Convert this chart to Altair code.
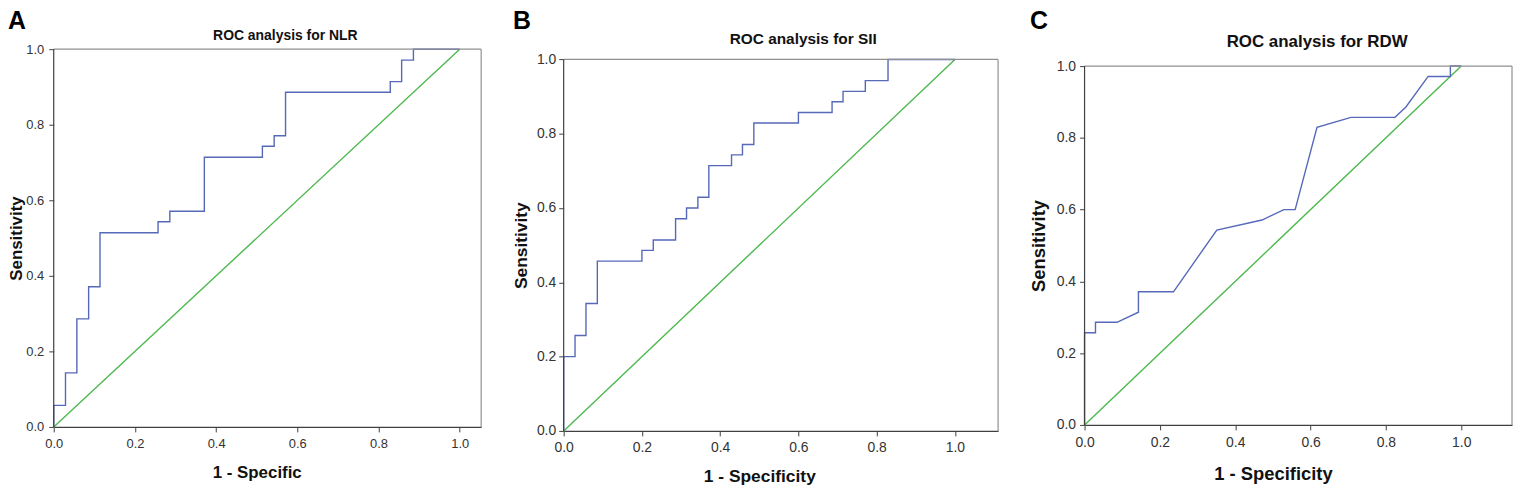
import altair as alt
import pandas as pd

# ---------------- data ----------------
tick_values = [0.0, 0.2, 0.4, 0.6, 0.8, 1.0]

nlr_fpr = [0.0, 0.0, 0.029, 0.029, 0.057, 0.057, 0.086, 0.086, 0.114, 0.114, 0.257, 0.257,
           0.286, 0.286, 0.371, 0.371, 0.514, 0.514, 0.543, 0.543, 0.571, 0.571, 0.829,
           0.829, 0.857, 0.857, 0.886, 0.886, 1.0]
nlr_tpr = [0.0, 0.057, 0.057, 0.143, 0.143, 0.286, 0.286, 0.371, 0.371, 0.514, 0.514, 0.543,
           0.543, 0.571, 0.571, 0.714, 0.714, 0.743, 0.743, 0.771, 0.771, 0.886, 0.886,
           0.914, 0.914, 0.971, 0.971, 1.0, 1.0]

sii_fpr = [0.0, 0.0, 0.029, 0.029, 0.057, 0.057, 0.086, 0.086, 0.2, 0.2, 0.229, 0.229, 0.286,
           0.286, 0.314, 0.314, 0.343, 0.343, 0.371, 0.371, 0.429, 0.429, 0.457, 0.457, 0.486,
           0.486, 0.6, 0.6, 0.686, 0.686, 0.714, 0.714, 0.771, 0.771, 0.829, 0.829, 1.0]
sii_tpr = [0.0, 0.2, 0.2, 0.257, 0.257, 0.343, 0.343, 0.457, 0.457, 0.486, 0.486, 0.514, 0.514,
           0.571, 0.571, 0.6, 0.6, 0.629, 0.629, 0.714, 0.714, 0.743, 0.743, 0.771, 0.771,
           0.829, 0.829, 0.857, 0.857, 0.886, 0.886, 0.914, 0.914, 0.943, 0.943, 1.0, 1.0]

rdw_fpr = [0.0, 0.0, 0.029, 0.029, 0.086, 0.143, 0.143, 0.236, 0.351, 0.471, 0.529, 0.559,
           0.617, 0.707, 0.824, 0.853, 0.912, 0.971, 0.971, 1.0]
rdw_tpr = [0.0, 0.257, 0.257, 0.286, 0.286, 0.314, 0.371, 0.371, 0.543, 0.571, 0.6, 0.6,
           0.829, 0.857, 0.857, 0.886, 0.971, 0.971, 1.0, 1.0]

ref_x = [0.0, 1.0]
ref_y = [0.0, 1.0]

BLUE = "#5668b8"
GREEN = "#4db84d"
FRAME_GRAY = "#909090"
AXIS_DARK = "#404040"
FONT = "Liberation Sans"

panels = [
    dict(letter="A", title="ROC analysis for NLR", xtitle="1 - Specific",
         fpr=nlr_fpr, tpr=nlr_tpr, width=430, height=380, xmax=1.0529, ymax=1.0,
         letter_x=-46, ytitle_x=-32, xtitle_y=51, title_cx=233, title_y=-9,
         label_size=13, axis_title_size=17, title_size=14, ylab_pad=5, xlab_pad=6),
    dict(letter="B", title="ROC analysis for SII", xtitle="1 - Specificity",
         fpr=sii_fpr, tpr=sii_tpr, width=437, height=384, xmax=1.1103, ymax=1.0276,
         letter_x=-51, ytitle_x=-37, xtitle_y=51, title_cx=241, title_y=-5,
         label_size=14, axis_title_size=17.5, title_size=15.5, ylab_pad=3, xlab_pad=5),
    dict(letter="C", title="ROC analysis for RDW", xtitle="1 - Specificity",
         fpr=rdw_fpr, tpr=rdw_tpr, width=430, height=378, xmax=1.1346, ymax=1.047,
         letter_x=-55, ytitle_x=-40, xtitle_y=55, title_cx=234, title_y=-2,
         label_size=14, axis_title_size=18.5, title_size=17, ylab_pad=4, xlab_pad=6),
]


def make_panel(p):
    roc_df = pd.DataFrame({"fpr": p["fpr"], "tpr": p["tpr"], "idx": list(range(len(p["fpr"])))})
    ref_df = pd.DataFrame({"fpr": ref_x, "tpr": ref_y})
    frame_df = pd.DataFrame({
        "fpr": [0.0, p["xmax"], 0.0],
        "x2": [p["xmax"], p["xmax"], 0.0],
        "tpr": [1.0, 0.0, 0.0],
        "y2": [1.0, 1.0, 1.0],
        "c": [FRAME_GRAY, FRAME_GRAY, AXIS_DARK],
    })
    letter_df = pd.DataFrame({"label": [p["letter"]]})
    title_df = pd.DataFrame({"label": [p["title"]]})

    xs = alt.Scale(domain=[0, p["xmax"]], nice=False, zero=False)
    ys = alt.Scale(domain=[0, p["ymax"]], nice=False, zero=False)
    px_per_x = p["width"] / p["xmax"]
    px_per_y = p["height"] / p["ymax"]

    xaxis = alt.Axis(
        values=tick_values, format=".1f", title=p["xtitle"], grid=False,
        labelFlush=False, labelOverlap=False, tickSize=5, labelPadding=p["xlab_pad"],
        labelFontSize=p["label_size"], labelFont=FONT, labelColor="#333333",
        domainColor=AXIS_DARK, tickColor=AXIS_DARK, domainWidth=1.2,
        titleFont=FONT, titleFontSize=p["axis_title_size"], titleFontWeight="bold",
        titleColor="#111111", titleX=0.5 * px_per_x, titleY=p["xtitle_y"],
        titleBaseline="alphabetic", titleAlign="center",
    )
    yaxis = alt.Axis(
        values=tick_values, format=".1f", title="Sensitivity", grid=False, domain=False,
        labelFlush=False, labelOverlap=False, tickSize=5, labelPadding=p["ylab_pad"],
        labelFontSize=p["label_size"], labelFont=FONT, labelColor="#333333",
        tickColor=AXIS_DARK,
        titleFont=FONT, titleFontSize=p["axis_title_size"], titleFontWeight="bold",
        titleColor="#111111", titleAngle=270, titleX=p["ytitle_x"],
        titleY=p["height"] - 0.5 * px_per_y, titleBaseline="alphabetic", titleAlign="center",
    )

    X = alt.X("fpr:Q", scale=xs, axis=xaxis)
    Y = alt.Y("tpr:Q", scale=ys, axis=yaxis)

    roc = alt.Chart(roc_df).mark_line(color=BLUE, strokeWidth=1.4).encode(
        x=X, y=Y, order="idx:Q",
    )
    ref = alt.Chart(ref_df).mark_line(color=GREEN, strokeWidth=1.4).encode(x=X, y=Y)
    frame = alt.Chart(frame_df).mark_rule(strokeWidth=1.2).encode(
        x=X, x2="x2:Q", y=Y, y2="y2:Q",
        color=alt.Color("c:N", scale=None, legend=None),
    )
    letter = alt.Chart(letter_df).mark_text(
        align="left", baseline="top", font=FONT, fontSize=25, fontWeight="bold", color="#000000"
    ).encode(x=alt.value(p["letter_x"]), y=alt.value(-40), text="label:N")
    title = alt.Chart(title_df).mark_text(
        align="center", baseline="alphabetic", font=FONT, fontSize=p["title_size"],
        fontWeight="bold", color="#111111"
    ).encode(x=alt.value(p["title_cx"]), y=alt.value(p["title_y"]), text="label:N")

    return alt.layer(ref, roc, frame, letter, title).properties(
        width=p["width"], height=p["height"],
    )


chart = alt.hconcat(*[make_panel(p) for p in panels], spacing=31).properties(
    padding=0, background="white"
).configure_view(stroke="transparent", strokeWidth=0)

chart.save("out.html", embed_options={"renderer": "svg", "actions": False})
